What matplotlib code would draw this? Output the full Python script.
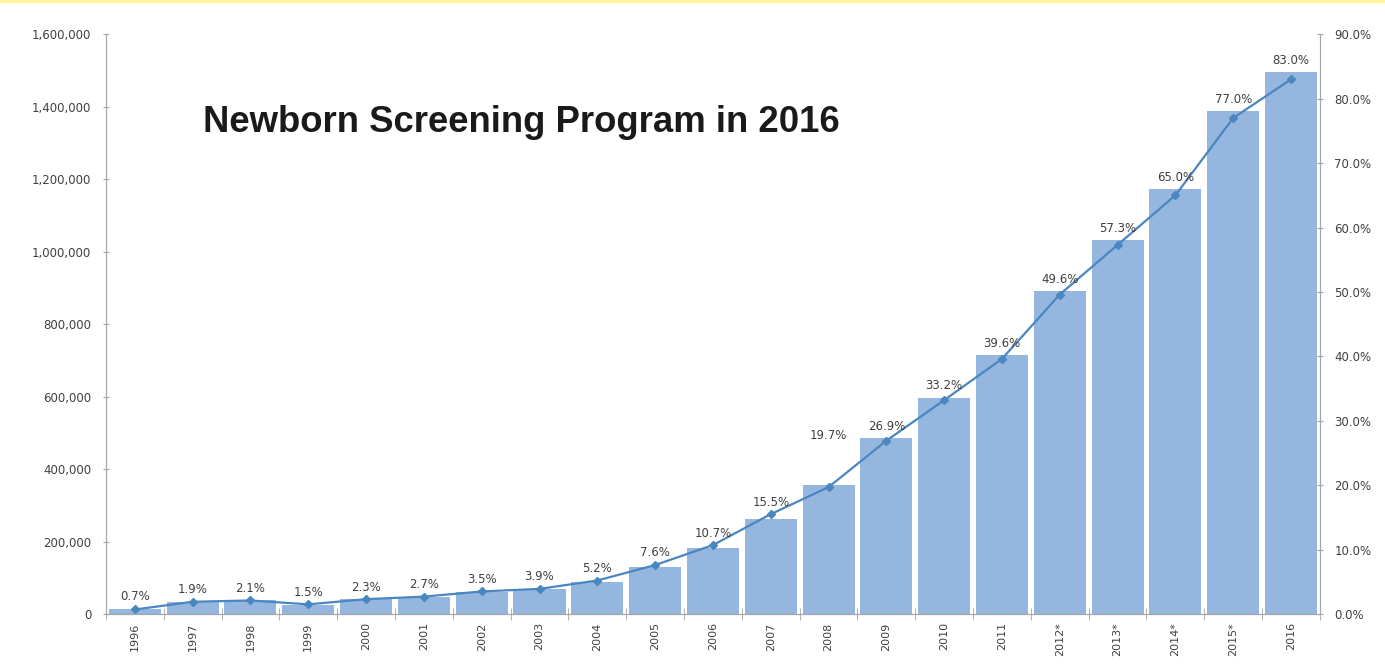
import matplotlib
matplotlib.use("Agg")
import matplotlib.pyplot as plt
from matplotlib.ticker import FuncFormatter, FixedLocator

years = ["1996", "1997", "1998", "1999", "2000", "2001", "2002", "2003", "2004", "2005",
         "2006", "2007", "2008", "2009", "2010", "2011", "2012*", "2013*", "2014*", "2015*", "2016"]
screened = [14000, 33000, 38000, 25000, 41000, 47000, 61000, 69000, 88000, 130000,
            182000, 262000, 356000, 485000, 596000, 714000, 891000, 1032000, 1172000, 1388000, 1495000]
coverage = [0.7, 1.9, 2.1, 1.5, 2.3, 2.7, 3.5, 3.9, 5.2, 7.6,
            10.7, 15.5, 19.7, 26.9, 33.2, 39.6, 49.6, 57.3, 65.0, 77.0, 83.0]

bar_color = "#95B7DF"
line_color = "#4A86C0"
axis_color = "#A6A6A6"
text_color = "#404040"

fig = plt.figure(figsize=(13.85, 6.72), dpi=100)
fig.patches.append(plt.Rectangle((0, 0.997), 1, 0.003, transform=fig.transFigure,
                                 color="#FFF59D", zorder=0))
ax = fig.add_axes([0.0765, 0.0863, 0.8765, 0.8627])
ax2 = ax.twinx()

x = list(range(len(years)))
ax.bar(x, screened, width=0.9, color=bar_color, zorder=2)
ax.set_xlim(-0.5, len(years) - 0.5)
ax.set_ylim(0, 1600000)
ax.set_yticks(range(0, 1600001, 200000))
ax.yaxis.set_major_formatter(FuncFormatter(lambda v, p: f"{int(v):,}"))

ax2.plot(x, coverage, color=line_color, lw=1.6, marker="D", ms=4, zorder=3)
ax2.set_ylim(0, 90)
ax2.set_yticks(range(0, 91, 10))
ax2.yaxis.set_major_formatter(FuncFormatter(lambda v, p: f"{v:.1f}%"))

# data labels above the bars
for i, (s, c) in enumerate(zip(screened, coverage)):
    y_top = max(s / 1600000 * 90, c)
    extra = 27 if years[i] == "2008" else 0
    ax2.annotate(f"{c:.1f}%", (i, y_top), xytext=(0, 4 + extra), textcoords="offset points",
                 ha="center", va="bottom", fontsize=8.5, color=text_color)

ax.set_xticks(x)
ax.set_xticklabels(years, rotation=90, fontsize=8, color=text_color)
ax.xaxis.set_minor_locator(FixedLocator([i - 0.5 for i in range(len(years) + 1)]))
ax.tick_params(axis="x", which="major", length=0, pad=6)
ax.tick_params(axis="x", which="minor", length=8, direction="inout", color=axis_color)
ax.tick_params(axis="y", labelsize=8.5, colors=text_color, length=5, direction="inout", pad=8)
ax2.tick_params(axis="y", labelsize=8.5, colors=text_color, length=5, direction="inout", pad=8)
for a in (ax, ax2):
    a.spines["top"].set_visible(False)
    for side in ("left", "right", "bottom"):
        a.spines[side].set_color(axis_color)
ax.tick_params(axis="y", color=axis_color)
ax2.tick_params(axis="y", color=axis_color)

fig.text(0.1465, 0.818, "Newborn Screening Program in 2016", fontsize=26.3, fontweight="bold",
         family=["Liberation Sans", "DejaVu Sans"], color="#1a1a1a", va="center")

fig.savefig("out.png", dpi=100)
